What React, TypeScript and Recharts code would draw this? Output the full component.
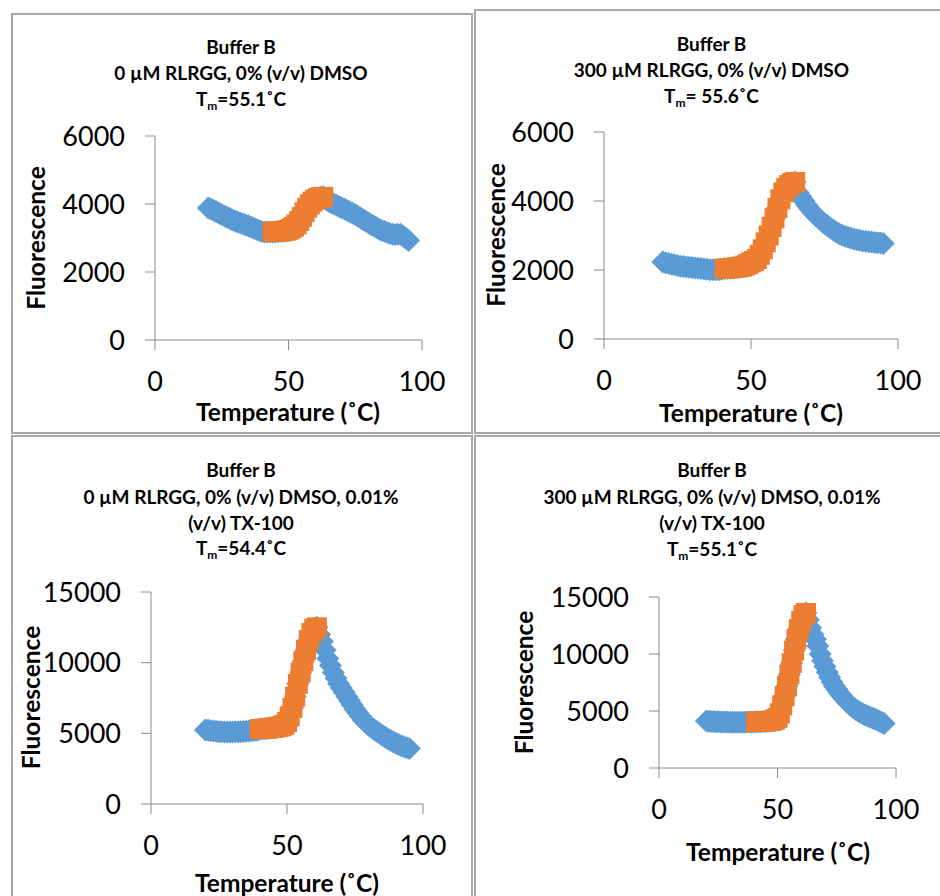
import React from 'react';
import { ScatterChart, Scatter, XAxis, YAxis } from 'recharts';

// Temperatures (°C) of the melt scan, shared by all four panels
const TEMPS = [
  20, 21, 22, 23, 24, 25, 26, 27, 28, 29,
  30, 31, 32, 33, 34, 35, 36, 37, 38, 39,
  40, 41, 42, 43, 44, 45, 46, 47, 48, 49,
  50, 51, 52, 53, 54, 55, 56, 57, 58, 59,
  60, 61, 62, 63, 64, 65, 66, 67, 68, 69,
  70, 71, 72, 73, 74, 75, 76, 77, 78, 79,
  80, 81, 82, 83, 84, 85, 86, 87, 88, 89,
  90, 91, 92, 93, 94, 95,
];

// Fluorescence readings per panel
const FLUOR_A = [
  3880, 3850, 3810, 3770, 3730, 3690, 3650, 3610, 3570, 3530,
  3500, 3470, 3440, 3410, 3380, 3350, 3320, 3290, 3250, 3220,
  3190, 3180, 3180, 3180, 3180, 3180, 3185, 3190, 3200, 3215,
  3240, 3280, 3330, 3400, 3500, 3620, 3760, 3890, 3990, 4070,
  4130, 4170, 4195, 4210, 4130, 4080, 4040, 4000, 3960, 3920,
  3880, 3850, 3810, 3770, 3730, 3690, 3640, 3590, 3540, 3490,
  3440, 3390, 3350, 3300, 3260, 3220, 3190, 3160, 3130, 3110,
  3100, 3110, 3110, 3050, 2990, 2930,
];
const FLUOR_B = [
  2230, 2210, 2190, 2170, 2150, 2130, 2110, 2100, 2090, 2080,
  2070, 2060, 2050, 2040, 2030, 2020, 2010, 2005, 2005, 2010,
  2020, 2040, 2045, 2050, 2060, 2070, 2085, 2100, 2130, 2170,
  2220, 2260, 2320, 2440, 2600, 2800, 3000, 3250, 3500, 3800,
  4050, 4250, 4380, 4460, 4520, 4550, 4250, 4120, 4000, 3880,
  3770, 3670, 3580, 3500, 3420, 3350, 3280, 3220, 3160, 3100,
  3050, 3010, 2980, 2950, 2920, 2900, 2880, 2860, 2840, 2830,
  2820, 2810, 2800, 2790, 2780, 2770,
];
const FLUOR_C = [
  5240, 5210, 5180, 5160, 5140, 5120, 5110, 5100, 5100, 5100,
  5100, 5105, 5110, 5120, 5130, 5145, 5160, 5180, 5200, 5225,
  5300, 5310, 5330, 5350, 5370, 5390, 5420, 5460, 5500, 5600,
  5800, 6200, 6800, 7600, 8500, 9300, 10100, 10900, 11600, 12100,
  12400, 12500, 12000, 11500, 10900, 10300, 9800, 9300, 8900, 8500,
  8200, 7900, 7600, 7300, 7000, 6700, 6450, 6200, 5950, 5750,
  5580, 5420, 5270, 5130, 5000, 4870, 4740, 4620, 4510, 4400,
  4300, 4210, 4130, 4050, 3980, 3920,
];
const FLUOR_D = [
  4120, 4100, 4080, 4070, 4060, 4050, 4040, 4035, 4030, 4025,
  4020, 4020, 4020, 4020, 4020, 4020, 4020, 4025, 4030, 4035,
  4040, 4050, 4055, 4060, 4070, 4080, 4100, 4120, 4170, 4250,
  4400, 4800, 5500, 6300, 7200, 8200, 9200, 10300, 11300, 12200,
  12900, 13400, 13600, 13000, 12300, 11700, 11300, 10700, 10000, 9400,
  8900, 8400, 7950, 7550, 7200, 6900, 6600, 6350, 6100, 5870,
  5650, 5460, 5290, 5130, 4990, 4860, 4750, 4650, 4560, 4470,
  4380, 4290, 4200, 4100, 4000, 3900,
];

// Temperature window used for the Tm fit (orange) per panel
const FIT_A = [44, 63];
const FIT_B = [41, 65];
const FIT_C = [40, 61];
const FIT_D = [41, 62];

const X_TICKS = [0, 50, 100];
const Y_TICKS_LOW = [0, 2000, 4000, 6000];
const Y_TICKS_HIGH = [0, 5000, 10000, 15000];

const TITLE_A = ['Buffer B', '0 µM RLRGG, 0% (v/v) DMSO'];
const TITLE_B = ['Buffer B', '300 µM RLRGG, 0% (v/v) DMSO'];
const TITLE_C = ['Buffer B', '0 µM RLRGG, 0% (v/v) DMSO, 0.01%', '(v/v) TX-100'];
const TITLE_D = ['Buffer B', '300 µM RLRGG, 0% (v/v) DMSO, 0.01%', '(v/v) TX-100'];
const TM_A = '=55.1˚C';
const TM_B = '= 55.6˚C';
const TM_C = '=54.4˚C';
const TM_D = '=55.1˚C';

const X_LABEL = 'Temperature (˚C)';
const Y_LABEL = 'Fluorescence';

const BLUE = '#5B9BD5';
const ORANGE = '#ED7D31';
const AXIS = '#8a8a8a';
const BORDER = '#a8a8a8';
const FONT = 'Lato, "Open Sans", sans-serif';

const Y_AXIS_W = 60;
const X_AXIS_H = 60;

const Diamond = (props: any) => {
  const { cx, cy } = props;
  if (cx == null || cy == null) return <g />;
  const h = 11.5;
  return (
    <path
      d={`M${cx},${cy - h}L${cx + h},${cy}L${cx},${cy + h}L${cx - h},${cy}Z`}
      fill={BLUE}
    />
  );
};

const Square = (props: any) => {
  const { cx, cy } = props;
  if (cx == null || cy == null) return <g />;
  const s = 10;
  return <rect x={cx - s} y={cy - s} width={2 * s} height={2 * s} fill={ORANGE} />;
};

type Rect = { left: number; top: number; width: number; height: number };
type Plot = { left: number; top: number; right: number; bottom: number };

type PanelProps = {
  box: Rect;
  view: Rect;
  plot: Plot;
  values: number[];
  fit: number[];
  yMax: number;
  yTicks: number[];
};

const Panel = ({ box, view, plot, values, fit, yMax, yTicks }: PanelProps) => {
  const all = TEMPS.map((t, i) => ({ x: t, y: values[i] }));
  const fitted = all.filter((d) => d.x >= fit[0] && d.x <= fit[1]);
  const margin = {
    top: plot.top - view.top,
    left: plot.left - view.left - Y_AXIS_W,
    right: view.left + view.width - plot.right,
    bottom: view.top + view.height - plot.bottom - X_AXIS_H,
  };
  const tick = { fill: '#000', fontSize: 27, fontFamily: FONT };
  return (
    <>
      <div
        style={{
          position: 'absolute',
          left: box.left,
          top: box.top,
          width: box.width,
          height: box.height,
          boxSizing: 'border-box',
          border: `2px solid ${BORDER}`,
        }}
      />
      <div style={{ position: 'absolute', left: view.left, top: view.top }}>
        <ScatterChart width={view.width} height={view.height} margin={margin}>
          <XAxis
            type="number"
            dataKey="x"
            domain={[0, 100]}
            ticks={X_TICKS}
            interval={0}
            height={X_AXIS_H}
            tickSize={10}
            tickMargin={22}
            stroke={AXIS}
            tick={tick}
          />
          <YAxis
            type="number"
            dataKey="y"
            domain={[0, yMax]}
            ticks={yTicks}
            interval={0}
            width={Y_AXIS_W}
            tickSize={10}
            tickMargin={20}
            stroke={AXIS}
            tick={tick}
          />
          <Scatter data={all} shape={Diamond} isAnimationActive={false} />
          <Scatter data={fitted} shape={Square} isAnimationActive={false} />
        </ScatterChart>
      </div>
    </>
  );
};

type TextSpec = {
  cx: number;
  lines: string[];
  baselines: number[];
  tm: string;
  xLabel: { x: number; y: number };
  yLabel: { x: number; y: number };
};

const PanelText = ({ cx, lines, baselines, tm, xLabel, yLabel }: TextSpec) => (
  <g fontFamily={FONT} fill="#000">
    {lines.map((l, i) => (
      <text key={i} x={cx} y={baselines[i]} textAnchor="middle" fontSize={19} fontWeight={700}>
        {l}
      </text>
    ))}
    <text x={cx} y={baselines[lines.length]} textAnchor="middle" fontSize={19} fontWeight={700}>
      <tspan>T</tspan>
      <tspan dy={4} fontSize={12}>m</tspan>
      <tspan dy={-4}>{tm}</tspan>
    </text>
    <text x={xLabel.x} y={xLabel.y} textAnchor="middle" fontSize={24.5} fontWeight={700}>
      {X_LABEL}
    </text>
    <text
      transform={`translate(${yLabel.x},${yLabel.y}) rotate(-90)`}
      textAnchor="middle"
      fontSize={24.5}
      fontWeight={700}
    >
      {Y_LABEL}
    </text>
  </g>
);

export default function App() {
  return (
    <div
      style={{
        position: 'absolute',
        left: 0,
        top: 0,
        width: 940,
        height: 896,
        overflow: 'hidden',
        background: '#fff',
        fontFamily: FONT,
      }}
    >
      <Panel
        box={{ left: 11, top: 13, width: 462, height: 421 }}
        view={{ left: 13, top: 15, width: 458, height: 417 }}
        plot={{ left: 155, top: 136, right: 422, bottom: 340 }}
        values={FLUOR_A}
        fit={FIT_A}
        yMax={6000}
        yTicks={Y_TICKS_LOW}
      />
      <Panel
        box={{ left: 474, top: 9, width: 480, height: 425 }}
        view={{ left: 476, top: 11, width: 464, height: 421 }}
        plot={{ left: 604, top: 132, right: 898, bottom: 339 }}
        values={FLUOR_B}
        fit={FIT_B}
        yMax={6000}
        yTicks={Y_TICKS_LOW}
      />
      <Panel
        box={{ left: 11, top: 435, width: 462, height: 480 }}
        view={{ left: 13, top: 437, width: 458, height: 459 }}
        plot={{ left: 151, top: 592, right: 423, bottom: 804 }}
        values={FLUOR_C}
        fit={FIT_C}
        yMax={15000}
        yTicks={Y_TICKS_HIGH}
      />
      <Panel
        box={{ left: 474, top: 435, width: 480, height: 480 }}
        view={{ left: 476, top: 437, width: 464, height: 459 }}
        plot={{ left: 659, top: 597, right: 896, bottom: 768 }}
        values={FLUOR_D}
        fit={FIT_D}
        yMax={15000}
        yTicks={Y_TICKS_HIGH}
      />
      <svg
        width={940}
        height={896}
        style={{ position: 'absolute', left: 0, top: 0, pointerEvents: 'none' }}
      >
        <PanelText
          cx={241}
          lines={TITLE_A}
          baselines={[54, 80, 106]}
          tm={TM_A}
          xLabel={{ x: 288, y: 421 }}
          yLabel={{ x: 45, y: 238 }}
        />
        <PanelText
          cx={711.5}
          lines={TITLE_B}
          baselines={[50.5, 77, 102.5]}
          tm={TM_B}
          xLabel={{ x: 751, y: 422 }}
          yLabel={{ x: 505, y: 235 }}
        />
        <PanelText
          cx={241}
          lines={TITLE_C}
          baselines={[476.5, 503.5, 529.5, 555]}
          tm={TM_C}
          xLabel={{ x: 287, y: 892 }}
          yLabel={{ x: 40, y: 697.5 }}
        />
        <PanelText
          cx={712}
          lines={TITLE_D}
          baselines={[476.5, 503.5, 529.5, 555.5]}
          tm={TM_D}
          xLabel={{ x: 778, y: 861 }}
          yLabel={{ x: 533, y: 682.5 }}
        />
      </svg>
    </div>
  );
}
